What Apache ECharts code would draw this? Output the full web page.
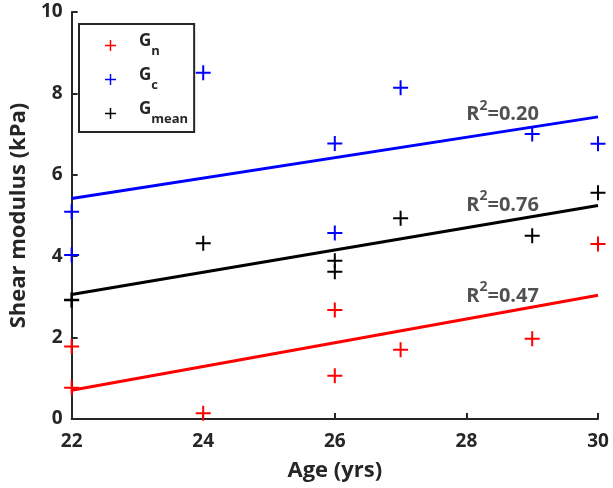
<!DOCTYPE html>
<html><head><meta charset="utf-8">
<script src="https://cdn.jsdelivr.net/npm/echarts@6/dist/echarts.min.js"></script>
<style>html,body{margin:0;padding:0;background:#fff}#c{width:613px;height:488px}</style>
</head><body><div id="c"></div>
<script>
// Data
const gnX = [22, 22, 24, 26, 26, 27, 29, 30];
const gnY = [1.78, 0.77, 0.14, 2.68, 1.06, 1.70, 1.97, 4.30];
const gcX = [22, 22, 24, 26, 26, 27, 29, 30];
const gcY = [5.09, 4.03, 8.51, 6.77, 4.57, 8.14, 7.00, 6.76];
const gmX = [22, 22, 24, 26, 26, 27, 29, 30];
const gmY = [2.92, 2.93, 4.32, 3.89, 3.62, 4.93, 4.50, 5.56];
const r2Labels = ['0.47', '0.20', '0.76'];
const xTicks = [22, 24, 26, 28, 30];
const yTicks = [0, 2, 4, 6, 8, 10];

function fit(xs, ys) {
  const n = xs.length;
  const mx = xs.reduce((a, b) => a + b, 0) / n;
  const my = ys.reduce((a, b) => a + b, 0) / n;
  let sxy = 0, sxx = 0;
  for (let i = 0; i < n; i++) { sxy += (xs[i] - mx) * (ys[i] - my); sxx += (xs[i] - mx) ** 2; }
  const b = sxy / sxx, a = my - b * mx;
  const x0 = xTicks[0], x1 = xTicks[xTicks.length - 1];
  return [[x0, a + b * x0], [x1, a + b * x1]];
}
const zip = (xs, ys) => xs.map((x, i) => [x, ys[i]]);

const PLUS = 'path://M6.5,0H8.5V6.5H15V8.5H8.5V15H6.5V8.5H0V6.5H6.5Z';
const FONT = 'Open Sans';
const DARK = '#262626';
const RED = '#ff0000', BLUE = '#0000ff', BLACK = '#000000';

const fitN = fit(gnX, gnY), fitC = fit(gcX, gcY), fitM = fit(gmX, gmY);

function r2Series(pt, txt) {
  return {
    type: 'scatter', silent: true, symbolSize: 0, z: 10,
    data: [pt],
    label: {
      show: true, position: 'inside',
      formatter: '{r|R}{s|2}{r|=' + txt + '}',
      rich: {
        r: { fontFamily: FONT, fontWeight: 'bold', fontSize: 20, color: DARK, lineHeight: 26, verticalAlign: 'bottom' },
        s: { fontFamily: FONT, fontWeight: 'bold', fontSize: 14, color: DARK, lineHeight: 26, verticalAlign: 'top', padding: [0, 0, 10, 0] }
      }
    }
  };
}

const chart = echarts.init(document.getElementById('c'), null, { renderer: 'canvas' });
const legendNames = { 'Gn': 'n', 'Gc': 'c', 'Gmean': 'mean' };
chart.setOption({
  animation: false,
  backgroundColor: '#fff',
  grid: { left: 67, right: 15, top: 12, bottom: 69, containLabel: false },
  xAxis: {
    type: 'value', min: 22, max: 30, interval: 2,
    name: 'Age (yrs)', nameLocation: 'middle', nameGap: 41,
    nameTextStyle: { fontFamily: FONT, fontWeight: 'bold', fontSize: 22, color: DARK },
    axisLine: { lineStyle: { color: DARK, width: 2 } },
    axisTick: { inside: true, length: 6, lineStyle: { color: DARK, width: 2 } },
    axisLabel: { fontFamily: FONT, fontWeight: 'bold', fontSize: 19, color: DARK, margin: 13 },
    splitLine: { show: false }
  },
  yAxis: {
    type: 'value', min: 0, max: 10, interval: 2,
    name: 'Shear modulus (kPa)', nameLocation: 'middle', nameGap: 40,
    nameTextStyle: { fontFamily: FONT, fontWeight: 'bold', fontSize: 22, color: DARK },
    axisLine: { show: true, lineStyle: { color: DARK, width: 2 } },
    axisTick: { show: true, inside: true, length: 6, lineStyle: { color: DARK, width: 2 } },
    axisLabel: { fontFamily: FONT, fontWeight: 'bold', fontSize: 19, color: DARK, margin: 9 },
    splitLine: { show: false }
  },
  legend: {
    orient: 'vertical', left: 79, top: 24,
    padding: [9, 6, 6, 26],
    itemGap: 9, itemWidth: 11, itemHeight: 11,
    borderColor: DARK, borderWidth: 2, backgroundColor: '#fff',
    data: [
      { name: 'Gn', icon: PLUS, itemStyle: { color: RED } },
      { name: 'Gc', icon: PLUS, itemStyle: { color: BLUE } },
      { name: 'Gmean', icon: PLUS, itemStyle: { color: BLACK } }
    ],
    formatter: n => '{g|G}{s|' + legendNames[n] + '}',
    textStyle: {
      padding: [0, 0, 0, 18],
      rich: {
        g: { fontFamily: FONT, fontWeight: 'bold', fontSize: 17, color: DARK, lineHeight: 25, verticalAlign: 'top' },
        s: { fontFamily: FONT, fontWeight: 'bold', fontSize: 13, color: DARK, lineHeight: 25, verticalAlign: 'bottom', padding: [11, 0, 0, 0] }
      }
    }
  },
  series: [
    { name: 'fitN', type: 'line', data: fitN, showSymbol: false, lineStyle: { color: RED, width: 3 }, silent: true },
    { name: 'fitC', type: 'line', data: fitC, showSymbol: false, lineStyle: { color: BLUE, width: 3 }, silent: true },
    { name: 'fitM', type: 'line', data: fitM, showSymbol: false, lineStyle: { color: BLACK, width: 3 }, silent: true },
    { name: 'Gn', type: 'scatter', data: zip(gnX, gnY), symbol: PLUS, symbolSize: 15, itemStyle: { color: RED, opacity: 1 }, z: 5 },
    { name: 'Gc', type: 'scatter', data: zip(gcX, gcY), symbol: PLUS, symbolSize: 15, itemStyle: { color: BLUE, opacity: 1 }, z: 5 },
    { name: 'Gmean', type: 'scatter', data: zip(gmX, gmY), symbol: PLUS, symbolSize: 15, itemStyle: { color: BLACK, opacity: 1 }, z: 5 },
    r2Series([28.55, 7.55], r2Labels[1]),
    r2Series([28.55, 5.32], r2Labels[2]),
    r2Series([28.55, 3.1], r2Labels[0])
  ]
});
</script></body></html>
